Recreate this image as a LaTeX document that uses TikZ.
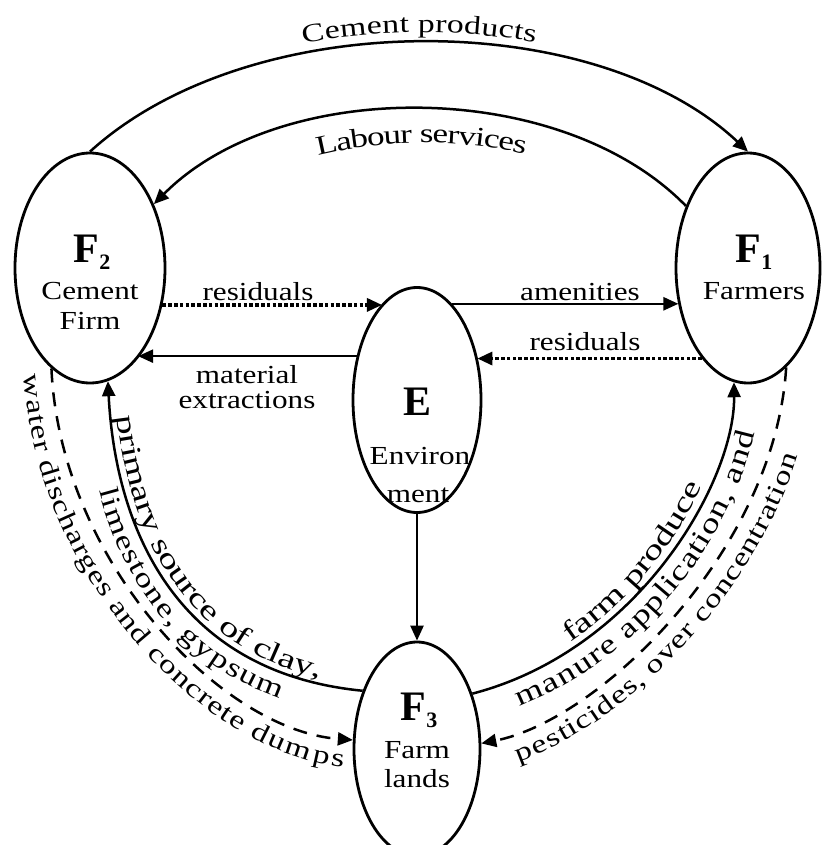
\documentclass[tikz,border=0pt]{standalone}
\usepackage{fontspec}
\setmainfont{Liberation Serif}
\newfontfamily\lblfont[FakeStretch=1.2]{Liberation Serif}
\newfontfamily\curvefont[FakeStretch=1.4]{Liberation Serif}
\newfontfamily\loosefont[FakeStretch=1.3]{Liberation Serif}
\newfontfamily\headfont{Liberation Serif}
\usetikzlibrary{arrows.meta,shapes.geometric,decorations.text}
\newcommand{\lbltext}{\fontsize{13}{15}\lblfont}
\newcommand{\curvetext}[1]{\fontsize{#1}{16}\curvefont}
\newcommand{\loosetext}[1]{\fontsize{#1}{16}\loosefont}
\newcommand{\agentname}[2]{{\fontsize{21}{21}\headfont\bfseries #1}\raisebox{-3.5pt}{\fontsize{11}{11}\headfont\bfseries #2}}

\tikzset{
  agent/.style={draw, ellipse, line width=1.4pt, inner sep=0pt},
  flow/.style={line width=1.25pt, -{Triangle[length=7.5pt,width=6.5pt]}},
  dotflow/.style={flow, line width=1.6pt, dash pattern=on 1.8pt off 1.1pt},
  dashflow/.style={flow, dash pattern=on 7pt off 5pt},
  lbl/.style={font=\lbltext, inner sep=0pt, anchor=base},
  textpath/.style={decorate, decoration={text along path}},
}

\begin{document}
\begin{tikzpicture}[x=0.5pt, y=0.5pt]
  \useasboundingbox (0,0) rectangle (822,-845);
  \clip (0,0) rectangle (822,-845);

  %%%%% AGENTS %%%%%
  \node[agent, minimum width=75pt, minimum height=115pt] (F2) at (90,-268) {};
  \node[agent, minimum width=72pt, minimum height=115pt] (F1) at (748,-268) {};
  \node[agent, minimum width=64pt, minimum height=112.5pt] (E) at (417,-400) {};
  \node[agent, minimum width=63pt, minimum height=107pt] (F3) at (417,-749) {};

  \node[lbl] (F2a) at (92,-263) {\agentname{F}{2}};
  \node[lbl] (F2b) at (90,-299) {Cement};
  \node[lbl] (F2c) at (90,-329) {Firm};

  \node[lbl] (F1a) at (754,-263) {\agentname{F}{1}};
  \node[lbl] (F1b) at (754,-299) {Farmers};

  \node[lbl] (Ea) at (418,-415) {\agentname{E}{}};
  \node[lbl] (Eb) at (420,-464) {Environ};
  \node[lbl] (Ec) at (418,-502) {ment};

  \node[lbl] (F3a) at (419,-720) {\agentname{F}{3}};
  \node[lbl] (F3b) at (417,-758) {Farm};
  \node[lbl] (F3c) at (417,-787) {lands};

  %%%%% TOP ARCS %%%%%
  \draw[flow] (F2.north) .. controls (250,-6) and (593,-6) .. (F1.north);
  \path[textpath, decoration={text={|\loosetext{13}|Cement products}, text align=center, raise=5pt}]
    (F2.north) .. controls (250,-6) and (593,-6) .. (F1.north);

  \draw[flow] (F1.135) .. controls (560,-77) and (280,-77) .. (F2.45);
  \path[textpath, decoration={text={|\loosetext{13.5}|Labour services}, text align=center, raise=-17pt}]
    (F2.45) .. controls (280,-77) and (578,-77) .. (F1.135);

  %%%%% MIDDLE FLOWS %%%%%
  \draw[dotflow] (F2.-27) -- (F2.-27 -| E.110);
  \node[lbl] (resL) at (258,-300) {residuals};

  \draw[flow] (E.70) -- (E.70 -| F1.208);
  \node[lbl] (amen) at (580,-300) {amenities};

  \draw[dotflow] (F1.243) -- (F1.243 -| E.36);
  \node[lbl] (resR) at (585,-350) {residuals};

  \draw[flow] (E.144) -- (E.144 -| F2.-62);
  \node[lbl] (matl) at (247,-383) {material};
  \node[lbl] (extr) at (247,-408) {extractions};

  \draw[flow] (E.south) -- (F3.north);

  %%%%% LEFT SIDE %%%%%
  \draw[flow] (F3.133) .. controls (170,-672) and (115,-520) .. (F2.-81);
  \path[textpath, decoration={text={|\curvetext{14}|primary source of clay,}, text align={left indent=18pt}, raise=3pt}]
    (F2.-81) .. controls (115,-520) and (170,-672) .. (F3.133);
  \path[textpath, decoration={text={|\loosetext{13.5}|limestone, gypsum}, text align={left indent=52pt}, raise=-12.5pt}]
    (F2.-81) .. controls (115,-520) and (170,-672) .. (F3.133);

  \draw[dashflow] (F2.249) .. controls (60,-560) and (220,-730) .. (F3.172);
  \path[textpath, decoration={text={|\loosetext{13}|water discharges and concrete dumps}, text align={left indent=2pt}, raise=-14pt}]
    (F2.249) .. controls (60,-560) and (220,-730) .. (F3.172);

  %%%%% RIGHT SIDE %%%%%
  \draw[flow] (F3.45) .. controls (640,-650) and (735,-480) .. (F1.263);
  \path[textpath, decoration={text={|\curvetext{14}|farm produce}, text align={left indent=56pt}, raise=3pt}]
    (F3.45) .. controls (640,-650) and (735,-480) .. (F1.263);
  \path[textpath, decoration={text={|\loosetext{14}|manure application, and}, text align={left indent=19pt}, raise=-13.5pt}]
    (F3.45) .. controls (640,-650) and (735,-480) .. (F1.263);

  \draw[dashflow] (F1.-69) .. controls (775,-550) and (600,-720) .. (F3.5);
  \path[textpath, decoration={text={|\loosetext{13}|pesticides, over concentration}, text align={left indent=14pt}, raise=-14pt}]
    (F3.5) .. controls (600,-720) and (775,-550) .. (F1.-69);
\end{tikzpicture}
\end{document}
